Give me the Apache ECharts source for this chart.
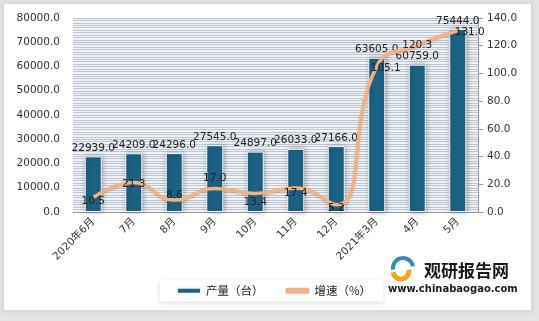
<!DOCTYPE html>
<html><head><meta charset="utf-8">
<script src="https://cdn.jsdelivr.net/npm/echarts@6/dist/echarts.min.js"></script>
<style>
html,body{margin:0;padding:0;background:#e4e4e4;}
#wrap{position:absolute;left:4px;top:4px;width:527px;height:306px;background:#fff;box-shadow:0 0 4px 2px #d4d4d4;}
#c{position:absolute;left:-4px;top:-4px;width:539px;height:321px;}
</style></head>
<body><div id="wrap"><div id="c"></div></div>
<script>
const categories = ['2020年6月','7月','8月','9月','10月','11月','12月','2021年3月','4月','5月'];
const output = [22939.0,24209.0,24296.0,27545.0,24897.0,26033.0,27166.0,63605.0,60759.0,75444.0];
const growth = [10.5,21.3,8.6,17.0,13.4,17.4,5.2,105.1,120.3,131.0];
const leftTicks = {min:0,max:80000,interval:10000};
const rightTicks = {min:0,max:140,interval:20};
// label nudges (px) for the growth labels
const growthLabelOffsets = [[0,4],[0,2],[0,-5],[0,-10],[0,9],[0,5],[0,3],[9,2],[0,0],[12,2]];

const chart = echarts.init(document.getElementById('c'));
const font = '"DejaVu Sans", Verdana, "Noto Sans CJK SC", sans-serif';
chart.setOption({
  animation:false,
  textStyle:{fontFamily:font},
  grid:{left:73,right:61,top:18,bottom:109,show:true,backgroundColor:'#eff3f7',borderWidth:0},
  legend:{
    left:160,top:280,itemGap:22,itemWidth:24,itemHeight:6,
    backgroundColor:'#fff',padding:[5,12,5,16],
    shadowColor:'rgba(0,0,0,0.15)',shadowBlur:6,shadowOffsetY:2,
    textStyle:{fontSize:11.5,color:'#222',fontFamily:'"Noto Sans CJK SC", sans-serif'},
    data:[{name:'产量（台）',icon:'rect'},{name:'增速（%）',icon:'roundRect'}]
  },
  xAxis:{type:'category',data:categories,
    axisLine:{lineStyle:{color:'#999'}},axisTick:{show:false},
    axisLabel:{rotate:45,fontSize:10.5,color:'#333',margin:8,interval:0}},
  yAxis:[
    {type:'value',min:leftTicks.min,max:leftTicks.max,interval:leftTicks.interval,
     axisLabel:{formatter:v=>v.toFixed(1),fontSize:10.5,color:'#333',margin:13},
     axisLine:{show:false},axisTick:{show:false},
     splitLine:{show:true,lineStyle:{color:'#b9c2cb',width:1}},
     minorTick:{show:false,splitNumber:10},
     minorSplitLine:{show:true,lineStyle:{color:'#bec7d0',width:1}}},
    {type:'value',min:rightTicks.min,max:rightTicks.max,interval:rightTicks.interval,position:'right',
     axisLabel:{formatter:v=>v.toFixed(1),fontSize:10.5,color:'#333',margin:9},
     axisLine:{show:true,lineStyle:{color:'#999'}},axisTick:{show:true,length:5,lineStyle:{color:'#999'}},
     splitLine:{show:false}}
  ],
  series:[
    {name:'产量（台）',type:'bar',data:output,barWidth:17,yAxisIndex:0,
     itemStyle:{color:'#1b6285',borderColor:'#f4f7fa',borderWidth:1,
       shadowColor:'rgba(0,0,0,0.35)',shadowBlur:5,shadowOffsetX:1,shadowOffsetY:0},
     label:{show:true,position:'top',distance:3,formatter:p=>p.value.toFixed(1),fontSize:10.5,color:'#222'}},
    {name:'增速（%）',type:'line',yAxisIndex:1,smooth:0.5,
     data:growth.map((v,i)=>({value:v,label:{offset:growthLabelOffsets[i]}})),
     symbol:'circle',symbolSize:0,showSymbol:true,
     lineStyle:{color:'#f4b183',width:3.5,shadowColor:'rgba(140,90,60,0.35)',shadowBlur:2,shadowOffsetY:1},
     itemStyle:{color:'#f4b183'},
     label:{show:true,position:'inside',formatter:p=>p.value.toFixed(1),fontSize:10.5,color:'#222'}}
  ],
  graphic:[
    {type:'text',left:424,top:262,style:{text:'观研报告网',font:'bold 17px "Noto Sans CJK SC", sans-serif',fill:'#1a1a1a'}},
    {type:'text',left:388,top:284,style:{text:'www.chinabaogao.com',font:'bold 10px "DejaVu Sans", sans-serif',fill:'#1a1a1a'}},
    {type:'arc',shape:{cx:403,cy:268,r:10,startAngle:Math.PI*0.95,endAngle:Math.PI*1.95},style:{stroke:'#2e8fb0',lineWidth:4,fill:null}},
    {type:'arc',shape:{cx:401,cy:271,r:8,startAngle:-Math.PI*0.05,endAngle:Math.PI*0.95},style:{stroke:'#f5a21b',lineWidth:5,fill:null}}
  ]
});
</script></body></html>
